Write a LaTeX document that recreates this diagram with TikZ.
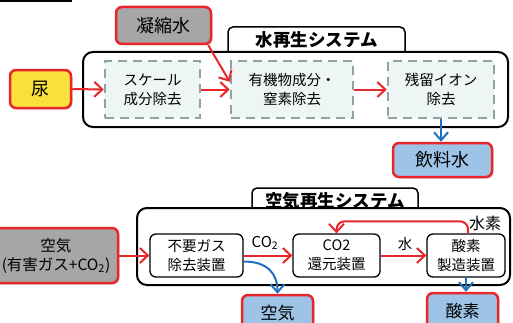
\documentclass[tikz,border=0pt]{standalone}
\usepackage{fontspec}
\setmainfont{Noto Sans CJK JP}
\usetikzlibrary{arrows.meta,shadows}
\definecolor{bred}{HTML}{E8262B}
\definecolor{bgray}{HTML}{A6A6A6}
\definecolor{byel}{HTML}{F9E03A}
\definecolor{bblue}{HTML}{9DC3E6}
\definecolor{dashc}{HTML}{8FA3A3}
\definecolor{dfill}{HTML}{EEF5F5}
\definecolor{ablue}{HTML}{1F6FBF}
\tikzset{
  src/.style={draw=bred, line width=2.5pt, rounded corners=6pt, align=center, inner sep=0pt,
    drop shadow={shadow xshift=1.5pt, shadow yshift=-1.5pt, fill=gray!60}},
  dbox/.style={draw=dashc, fill=dfill, line width=2.5pt, dash pattern=on 9pt off 6pt,
    align=center, inner sep=0pt, font=\fontsize{14.5}{19}\selectfont},
  dev/.style={draw=black, fill=white, line width=1.3pt, rounded corners=6pt, align=center,
    inner sep=0pt, font=\fontsize{14.5}{19}\selectfont},
  bigbox/.style={draw=black, fill=white, line width=2pt, rounded corners=10pt},
  tabbox/.style={draw=black, fill=white, line width=1.5pt, rounded corners=5pt},
  rarr/.style={draw=bred, line width=2pt, -{Straight Barb[length=8pt,width=15pt,line width=2pt]}},
  barr/.style={draw=ablue, line width=2pt, -{Straight Barb[length=8pt,width=14pt,line width=2pt]}},
}
\begin{document}
\begin{tikzpicture}[x=1pt,y=1pt]
\useasboundingbox (0,0) rectangle (513,322);
\clip (0,0) rectangle (513,322);
\draw[line width=1.5pt] (0,321) -- (72,321);
% water system
\draw[tabbox] (228,295) rectangle (405,258);
\node (wtitle) at (316.5,282) {\fontsize{17.5}{20}\selectfont\bfseries 水再生システム};
\draw[bigbox] (83,270) rectangle (508,195);
\node[src, fill=bgray, minimum width=95pt, minimum height=37pt, font=\fontsize{18}{20}\selectfont] (cond) at (163.5,296.5) {凝縮水};
\node[src, fill=byel, minimum width=61pt, minimum height=38pt, font=\fontsize{18}{20}\selectfont] (urine) at (40.5,233) {尿};
\node[dbox, minimum width=95pt, minimum height=57pt] (d1) at (152.5,232.5) {スケール\\成分除去};
\node[dbox, minimum width=122pt, minimum height=57pt] (d2) at (292,232.5) {有機物成分・\\窒素除去};
\node[dbox, minimum width=106pt, minimum height=57pt] (d3) at (441,232.5) {残留イオン\\除去};
\node[src, fill=bblue, minimum width=99pt, minimum height=34pt, font=\fontsize{18}{20}\selectfont] (drink) at (442.5,162) {飲料水};
\draw[rarr] (urine.east) -- (d1.west);
\draw[rarr] (d1.east) -- (d2.west);
\draw[rarr] (d2.east) -- (d3.west);
\draw[rarr] ([xshift=-4pt]cond.south east) -- ([yshift=-22pt]d2.north west);
\draw[barr] (d3.south) -- (d3.south |- drink.north);
% air system
\draw[tabbox] (252,134) rectangle (418,98);
\node (atitle) at (335,121) {\fontsize{17.5}{20}\selectfont\bfseries 空気再生システム};
\draw[bigbox] (137,114) rectangle (510,37);
\node[src, fill=bgray, minimum width=124pt, minimum height=55pt, font=\fontsize{15.5}{19}\selectfont] (airin) at (56,66.5) {空気\\(有害ガス+CO\textsubscript{2})};
\node[dev, minimum width=93pt, minimum height=43pt] (gas) at (196.5,66.5) {不要ガス\\除去装置};
\node[dev, minimum width=87pt, minimum height=43pt] (co2r) at (336.5,66.5) {CO2\\還元装置};
\node[dev, minimum width=78pt, minimum height=43pt] (o2m) at (466,66.5) {酸素\\製造装置};
\node[src, fill=bblue, minimum width=71pt, minimum height=36pt, font=\fontsize{17}{20}\selectfont] (airout) at (277.5,9) {空気};
\node[src, fill=bblue, minimum width=71pt, minimum height=36pt, font=\fontsize{17}{20}\selectfont] (o2out) at (462.5,11) {酸素};
\draw[rarr] (airin.east) -- (gas.west);
\draw[rarr] (gas.east) -- (co2r.west);
\draw[rarr] (co2r.east) -- (o2m.west);
\draw[rarr, rounded corners=8pt] ([xshift=2pt]o2m.north) |- ([yshift=12pt]co2r.north) -- (co2r.north);
\draw[barr] ([yshift=-6pt]gas.east) .. controls (268,60.5) and (277.5,48) .. (airout.north);
\draw[barr] (o2m.south) -- (o2m.south |- o2out.north);
\node[font=\fontsize{15}{18}\selectfont, inner sep=0pt] (lco2) at (265,79) {CO\textsubscript{2}};
\node[font=\fontsize{14.5}{18}\selectfont, inner sep=0pt] (lwater) at (405,78) {水};
\node[font=\fontsize{16}{18}\selectfont, inner sep=0pt] (lh2) at (485,99) {水素};
\end{tikzpicture}
\end{document}
